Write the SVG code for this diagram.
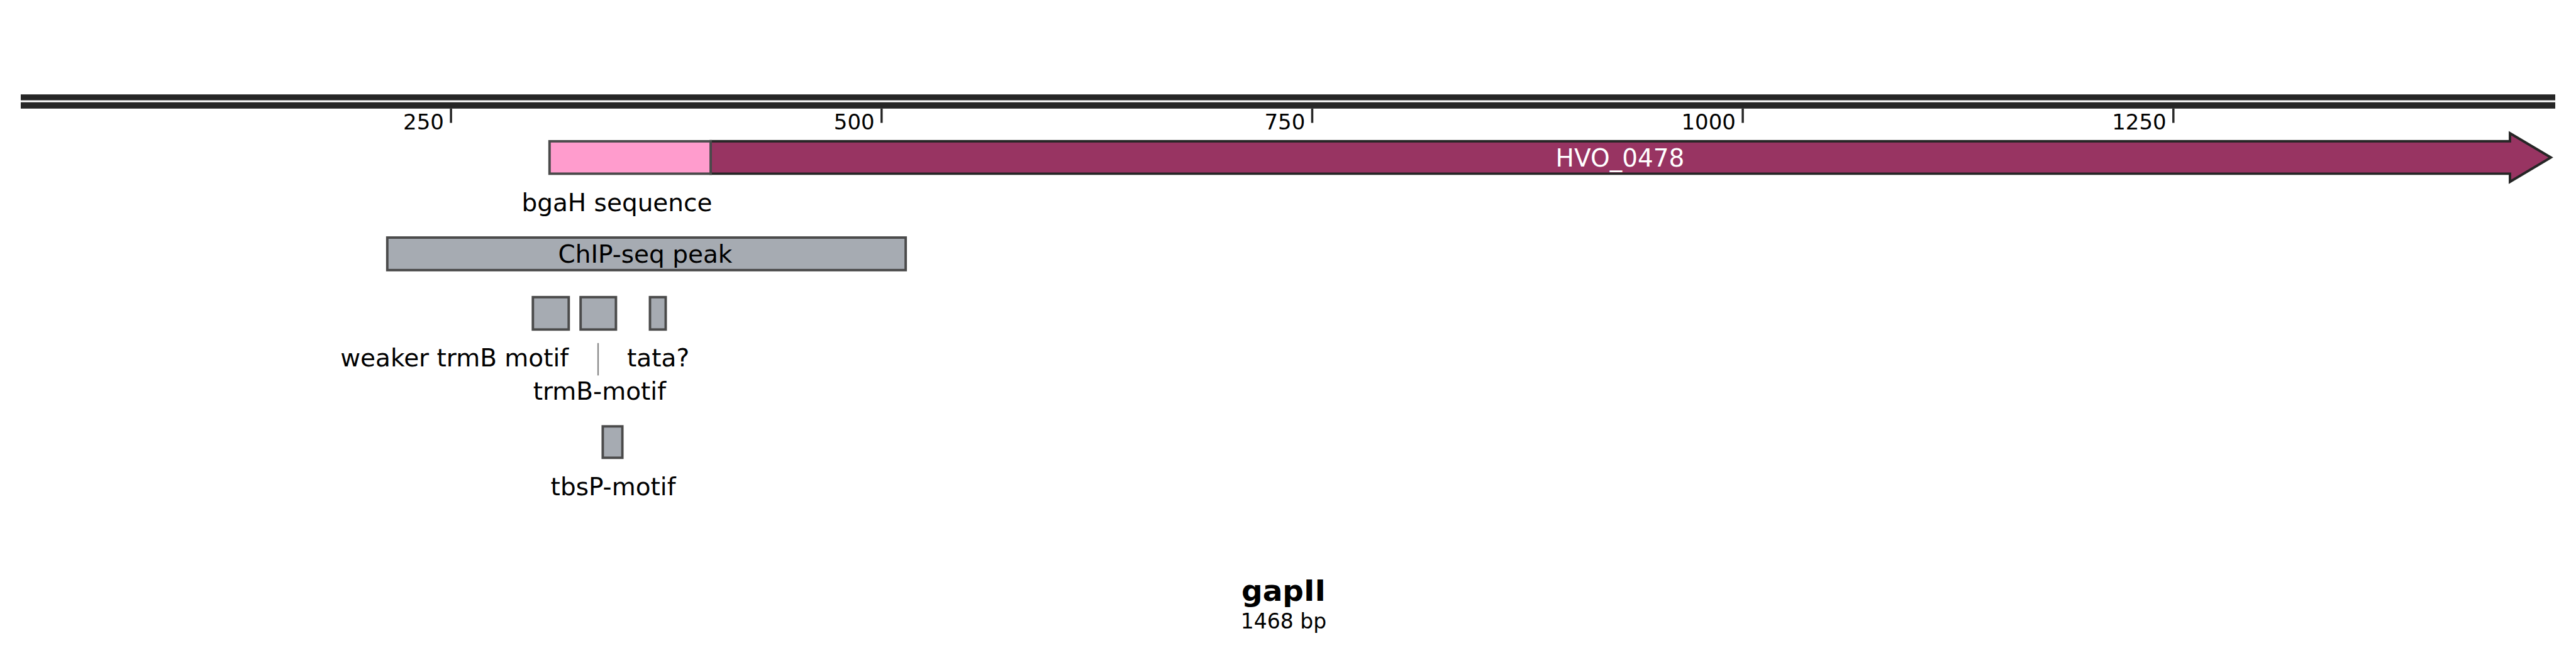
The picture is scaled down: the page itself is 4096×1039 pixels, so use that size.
<svg xmlns="http://www.w3.org/2000/svg" width="4096" height="1039" viewBox="0 0 4096 1039">
<style>
text{font-family:"DejaVu Sans",Verdana,sans-serif;fill:#000}
.tick{stroke:#262626;stroke-width:3.5}
.tl{font-size:34px;text-anchor:end}
.lab{font-size:39px;text-anchor:middle}
.feat{fill:#a6abb2;stroke:#4a4a4a;stroke-width:3.9}
</style>
<rect width="4096" height="1039" fill="#fff"/>
<g id="backbone">
<rect x="33" y="150.2" width="4030" height="9.4" fill="#262626"/>
<rect x="33" y="162.7" width="4030" height="10.1" fill="#262626"/>
</g>
<g id="ticks">
<line class="tick" x1="717.1" y1="172.8" x2="717.1" y2="195.5"/>
<line class="tick" x1="1401.8" y1="172.8" x2="1401.8" y2="195.5"/>
<line class="tick" x1="2086.5" y1="172.8" x2="2086.5" y2="195.5"/>
<line class="tick" x1="2771.1" y1="172.8" x2="2771.1" y2="195.5"/>
<line class="tick" x1="3455.8" y1="172.8" x2="3455.8" y2="195.5"/>
<text class="tl" x="706" y="205.7">250</text>
<text class="tl" x="1390.7" y="205.7">500</text>
<text class="tl" x="2075.4" y="205.7">750</text>
<text class="tl" x="2760" y="205.7">1000</text>
<text class="tl" x="3444.7" y="205.7">1250</text>
</g>
<g id="HVO_0478">
<path d="M1130,224.8 L3991,224.8 L3991,212 L4056,250.6 L3991,289.2 L3991,276.4 L1130,276.4 Z" fill="#983462" stroke="#262626" stroke-width="3.9" stroke-linejoin="miter"/>
<text class="lab" x="2576" y="264.5" style="fill:#fff">HVO_0478</text>
</g>
<g id="bgaH">
<rect x="873.8" y="224.8" width="256.2" height="51.6" fill="#ff9ccd" stroke="#4a4a4a" stroke-width="3.9"/>
<text class="lab" x="981" y="336.3">bgaH sequence</text>
</g>
<g id="chip">
<rect class="feat" x="615.8" y="378" width="824.3" height="51.8"/>
<text class="lab" x="1026" y="417.5">ChIP-seq peak</text>
</g>
<g id="weaker">
<rect class="feat" x="847.3" y="472.8" width="57" height="51.5"/>
<text class="lab" x="722.6" y="583.4">weaker trmB motif</text>
</g>
<g id="trmB">
<rect class="feat" x="923.2" y="472.8" width="56.2" height="51.5"/>
<text class="lab" x="953.3" y="635.8">trmB-motif</text>
</g>
<g id="tata">
<rect class="feat" x="1033.5" y="472.8" width="25" height="51.5"/>
<text class="lab" x="1046.6" y="583.4">tata?</text>
</g>
<g id="tbsP">
<rect class="feat" x="958.4" y="678.4" width="31.2" height="50"/>
<text class="lab" x="975" y="787.5">tbsP-motif</text>
</g>
<g id="connectors">
<line x1="951" y1="545.8" x2="951" y2="597.4" stroke="#8a8a8a" stroke-width="2.3"/>
</g>
<g id="title">
<text x="2041" y="955.6" style="font-size:47px;font-weight:bold;text-anchor:middle">gapII</text>
<text x="2041" y="1000.2" style="font-size:33px;text-anchor:middle">1468 bp</text>
</g>
</svg>
